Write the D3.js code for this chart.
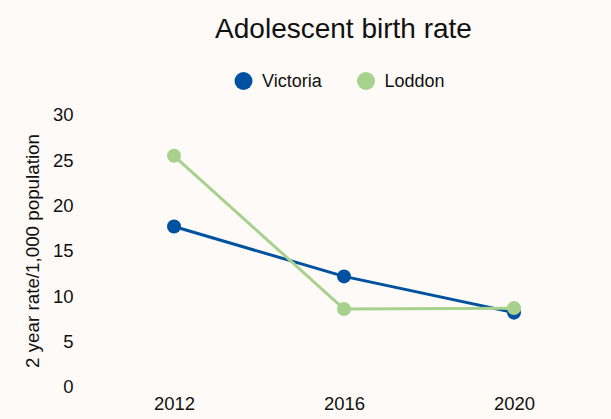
<!DOCTYPE html>
<html>
<head>
<meta charset="utf-8">
<script src="https://cdn.jsdelivr.net/npm/d3@7"></script>
<style>
  html, body { margin: 0; padding: 0; background: #fdfaf7; }
  svg { display: block; }
  svg text { font-family: Arial, "Liberation Sans", sans-serif; fill: #111; }
</style>
</head>
<body>
<svg id="chart" width="611" height="419"></svg>
<script>
const years = ["2012", "2016", "2020"];
const victoria = [17.7, 12.2, 8.2];
const loddon = [25.5, 8.6, 8.7];
const seriesNames = ["Victoria", "Loddon"];
const seriesColors = ["#0052a0", "#a8d18d"];
const yTicks = [0, 5, 10, 15, 20, 25, 30];

const series = [
  { name: seriesNames[0], color: seriesColors[0], values: victoria },
  { name: seriesNames[1], color: seriesColors[1], values: loddon }
];

const svg = d3.select("#chart");
const W = 611, H = 419;
svg.append("rect").attr("width", W).attr("height", H).attr("fill", "#fdfaf7");

const x = d3.scalePoint().domain(years).range([89, 599]).padding(0.5);
const y = d3.scaleLinear().domain([0, 30]).range([387, 115]);

// Title
svg.append("text")
  .attr("x", 343.5).attr("y", 37.5)
  .attr("text-anchor", "middle")
  .attr("font-size", 28)
  .text("Adolescent birth rate");

// Legend
const legendX = [243.5, 366];
series.forEach((s, i) => {
  const g = svg.append("g").attr("transform", `translate(${legendX[i]},81)`);
  g.append("circle").attr("r", 9).attr("fill", s.color);
  g.append("text").attr("x", 18.5).attr("y", 6.3)
    .attr("font-size", 18).text(s.name);
});

// Y axis (labels only)
const yAxis = d3.axisLeft(y).tickValues(yTicks).tickSize(0).tickPadding(0);
const gy = svg.append("g").attr("transform", "translate(73.5,0)").call(yAxis);
gy.select(".domain").remove();
gy.selectAll("text").attr("font-size", 18.5).attr("font-family", null);

// X axis (labels only)
const xAxis = d3.axisBottom(x).tickSize(0).tickPadding(0);
const gx = svg.append("g").attr("transform", "translate(0,397)").call(xAxis);
gx.select(".domain").remove();
gx.selectAll("text").attr("font-size", 18.5).attr("font-family", null);

// Y axis title
svg.append("text")
  .attr("transform", "translate(38.5,251) rotate(-90)")
  .attr("text-anchor", "middle")
  .attr("font-size", 18.8)
  .text("2 year rate/1,000 population");

// Lines and points
const line = d3.line().x((d, i) => x(years[i])).y(d => y(d));
series.forEach(s => {
  svg.append("path")
    .datum(s.values)
    .attr("d", line)
    .attr("fill", "none")
    .attr("stroke", s.color)
    .attr("stroke-width", 3);
  svg.selectAll(null)
    .data(s.values)
    .enter().append("circle")
    .attr("cx", (d, i) => x(years[i]))
    .attr("cy", d => y(d))
    .attr("r", 7)
    .attr("fill", s.color);
});
</script>
</body>
</html>
